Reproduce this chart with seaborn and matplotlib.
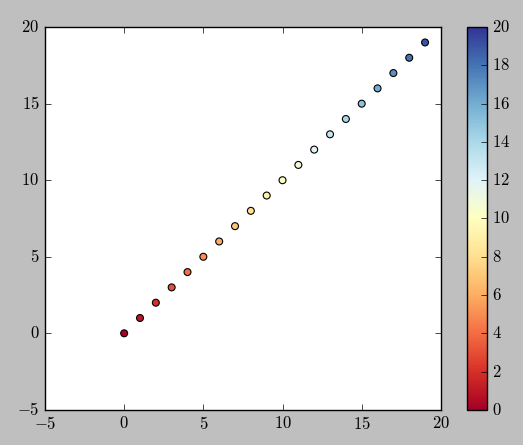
import numpy as np
import pandas as pd
import seaborn as sns
import matplotlib.pyplot as plt
from matplotlib.colors import Normalize
from matplotlib.cm import ScalarMappable

# data: twenty points on the diagonal, coloured by their value
x_vals = list(range(20))
y_vals = list(range(20))
c_vals = list(range(20))
cbar_ticks = list(range(0, 21, 2))

plt.style.use('classic')
plt.rcParams['font.family'] = 'serif'
plt.rcParams['font.serif'] = ['cmr10', 'DejaVu Serif']
plt.rcParams['mathtext.fontset'] = 'cm'
plt.rcParams['axes.formatter.use_mathtext'] = True

df = pd.DataFrame({'x': x_vals, 'y': y_vals, 'c': c_vals})

fig = plt.figure(figsize=(5.23, 4.45), dpi=100)
fig.patch.set_facecolor('0.75')
ax = fig.add_axes([0.086, 0.079, 0.757, 0.860])
cax = fig.add_axes([0.893, 0.079, 0.038, 0.860])

norm = Normalize(vmin=0, vmax=20)
sns.scatterplot(data=df, x='x', y='y', hue='c', palette='RdYlBu', hue_norm=norm,
                s=25, edgecolor='black', linewidth=0.8, legend=False, ax=ax)
ax.set_xlim(-5, 20)
ax.set_ylim(-5, 20)
ax.set_xlabel('')
ax.set_ylabel('')

sm = ScalarMappable(norm=norm, cmap='RdYlBu')
cb = fig.colorbar(sm, cax=cax, ticks=cbar_ticks)

fig.savefig('out.png', dpi=100, facecolor=fig.get_facecolor())
